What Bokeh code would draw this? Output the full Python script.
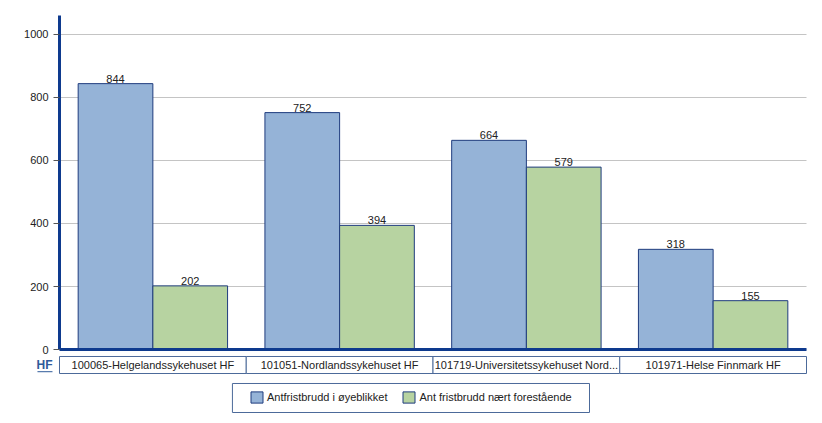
from bokeh.plotting import figure
from bokeh.models import ColumnDataSource, Range1d, FixedTicker, Legend, LegendItem
from bokeh.core.properties import value
from bokeh.embed import file_html
from bokeh.resources import INLINE

categories = ["100065-Helgelandssykehuset HF", "101051-Nordlandssykehuset HF",
              "101719-Universitetssykehuset Nord...", "101971-Helse Finnmark HF"]
series_names = ["Antfristbrudd i øyeblikket", "Ant fristbrudd nært forestående"]
values_now = [844, 752, 664, 318]
values_soon = [202, 394, 579, 155]
y_ticks = [0, 200, 400, 600, 800, 1000]
axis_title = "HF"

FONT = "Liberation Sans"
BLUE = "#95B3D7"
GREEN = "#B7D3A1"
EDGE = "#1F3C7E"
AXIS = "#0E3A8E"
BOXLINE = "#4C6A9A"
TXT = "#222222"

n = len(categories)
idx = list(range(n))
src_a = ColumnDataSource(dict(x=[i + 0.3 for i in idx], top=values_now,
                              lab=[str(v) for v in values_now]))
src_b = ColumnDataSource(dict(x=[i + 0.7 for i in idx], top=values_soon,
                              lab=[str(v) for v in values_soon]))
src_c = ColumnDataSource(dict(x=[i + 0.5 for i in idx], name=categories))

# frame spans the whole figure; data x=0 sits at 59px, y=0 at 349px
p = figure(width=814, height=415, output_backend="svg", toolbar_location=None,
           x_range=Range1d(-0.3159, 4.0428), y_range=Range1d(-209.5, 1107.9),
           min_border_left=0, min_border_right=0, min_border_top=0, min_border_bottom=0)
p.outline_line_color = None
p.xaxis.visible = False
p.xgrid.visible = False
p.ygrid.visible = False

ax = p.yaxis[0]
ax.fixed_location = 0
ax.ticker = FixedTicker(ticks=y_ticks)
ax.bounds = (0, 1060.3)
ax.axis_line_color = AXIS
ax.axis_line_width = 3
ax.major_tick_line_color = "#555555"
ax.major_tick_out = 6
ax.major_tick_in = 0
ax.minor_tick_line_color = None
ax.major_label_text_font = FONT
ax.major_label_text_font_size = "11px"
ax.major_label_text_color = TXT
ax.major_label_standoff = 5

# horizontal gridlines from the axis to the right end
p.segment(x0=0, x1=n, y0=y_ticks, y1=y_ticks, line_color="#C4C4C4", line_width=1)

r1 = p.vbar(x="x", top="top", width=0.4, bottom=0, source=src_a,
            fill_color=BLUE, line_color=EDGE, line_width=1)
r2 = p.vbar(x="x", top="top", width=0.4, bottom=0, source=src_b,
            fill_color=GREEN, line_color=EDGE, line_width=1)

for s in (src_a, src_b):
    p.text(x="x", y="top", text="lab", source=s, text_align="center",
           text_baseline="bottom", y_offset=-1, text_font=value(FONT),
           text_font_size="11px", text_color=TXT)

# x axis baseline
p.segment(x0=0, x1=n, y0=0, y1=0, line_color=AXIS, line_width=3)

# category label boxes
p.rect(x="x", y=-49.2, width=1, height=54, source=src_c, fill_color="white",
       line_color=BOXLINE, line_width=1)
p.text(x="x", y=-49.2, text="name", source=src_c, text_align="center",
       text_baseline="middle", text_font=value(FONT), text_font_size="11px",
       text_color=TXT)

# "HF" label, underlined
p.text(x=[-0.0375], y=[-49.5], text=[axis_title], text_align="right",
       text_baseline="middle", text_font=value(FONT), text_font_size="12px",
       text_font_style="bold", text_color="#2F5B9A")
p.segment(x0=-0.118, x1=-0.0375, y0=-70.5, y1=-70.5, line_color="#2F5B9A", line_width=1)

# legend box
p.quad(left=0.926, right=2.838, top=-107.9, bottom=-200, fill_color="white",
       line_color=BOXLINE, line_width=1)

legend = Legend(items=[LegendItem(label=series_names[0], renderers=[r1]),
                       LegendItem(label=series_names[1], renderers=[r2])],
                orientation="horizontal", location=(249, 11), padding=0, margin=0,
                spacing=14, glyph_width=15, glyph_height=14, label_height=14,
                label_standoff=3, label_text_font=FONT, label_text_font_size="11px",
                label_text_color=TXT, border_line_alpha=0,
                background_fill_alpha=0)
p.add_layout(legend, "center")

open("out.html", "w").write(file_html(p, INLINE))
